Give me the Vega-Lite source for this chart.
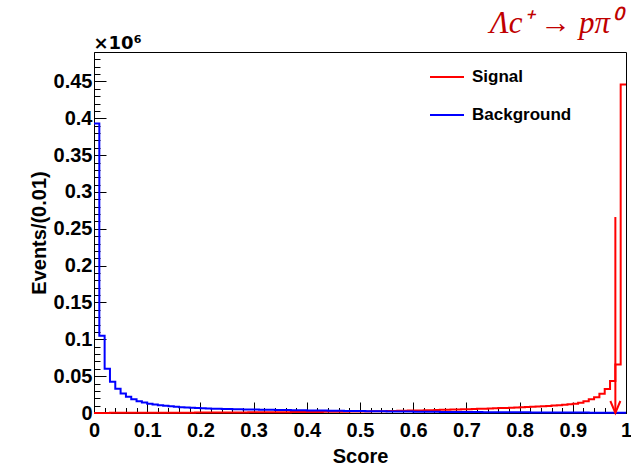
{
  "$schema": "https://vega.github.io/schema/vega-lite/v6.json",
  "width": 532,
  "height": 361,
  "autosize": {"type": "none"},
  "padding": {"left": 94, "top": 52, "right": 5, "bottom": 52},
  "background": "white",
  "title": {"text": "Λc⁺ → pπ⁰", "anchor": "end", "orient": "top", "frame": "group", "font": "Liberation Serif", "fontStyle": "italic", "fontWeight": "normal", "fontSize": 31, "color": "#c00000", "offset": -6, "dx": -5},
  "config": {
    "view": {"stroke": "#000000", "strokeWidth": 1},
    "axis": {"grid": false, "domainColor": "#000000", "tickColor": "#000000", "labelColor": "#000000", "titleColor": "#000000", "labelFont": "Liberation Sans", "labelFontWeight": "bold", "labelFontSize": 20, "titleFont": "Liberation Sans", "titleFontWeight": "bold", "titleFontSize": 20, "labelOverlap": false, "labelBound": false, "labelFlush": false}
  },
  "resolve": {"axis": {"x": "independent", "y": "independent"}},
  "datasets": {
    "hist": [
      {"score": 0.00, "Signal": 150, "Background": 393000},
      {"score": 0.01, "Signal": 160, "Background": 105000},
      {"score": 0.02, "Signal": 170, "Background": 60000},
      {"score": 0.03, "Signal": 180, "Background": 42500},
      {"score": 0.04, "Signal": 200, "Background": 33000},
      {"score": 0.05, "Signal": 210, "Background": 26500},
      {"score": 0.06, "Signal": 230, "Background": 22000},
      {"score": 0.07, "Signal": 250, "Background": 18500},
      {"score": 0.08, "Signal": 260, "Background": 16000},
      {"score": 0.09, "Signal": 280, "Background": 14200},
      {"score": 0.10, "Signal": 300, "Background": 12700},
      {"score": 0.11, "Signal": 320, "Background": 11500},
      {"score": 0.12, "Signal": 340, "Background": 10500},
      {"score": 0.13, "Signal": 360, "Background": 9700},
      {"score": 0.14, "Signal": 380, "Background": 9000},
      {"score": 0.15, "Signal": 400, "Background": 8400},
      {"score": 0.16, "Signal": 430, "Background": 7900},
      {"score": 0.17, "Signal": 460, "Background": 7400},
      {"score": 0.18, "Signal": 490, "Background": 7000},
      {"score": 0.19, "Signal": 520, "Background": 6700},
      {"score": 0.20, "Signal": 550, "Background": 6400},
      {"score": 0.21, "Signal": 580, "Background": 6100},
      {"score": 0.22, "Signal": 610, "Background": 5900},
      {"score": 0.23, "Signal": 640, "Background": 5700},
      {"score": 0.24, "Signal": 670, "Background": 5500},
      {"score": 0.25, "Signal": 700, "Background": 5300},
      {"score": 0.26, "Signal": 730, "Background": 5150},
      {"score": 0.27, "Signal": 770, "Background": 5000},
      {"score": 0.28, "Signal": 810, "Background": 4850},
      {"score": 0.29, "Signal": 850, "Background": 4700},
      {"score": 0.30, "Signal": 900, "Background": 4600},
      {"score": 0.31, "Signal": 940, "Background": 4450},
      {"score": 0.32, "Signal": 980, "Background": 4350},
      {"score": 0.33, "Signal": 1020, "Background": 4250},
      {"score": 0.34, "Signal": 1070, "Background": 4150},
      {"score": 0.35, "Signal": 1120, "Background": 4050},
      {"score": 0.36, "Signal": 1170, "Background": 3950},
      {"score": 0.37, "Signal": 1220, "Background": 3850},
      {"score": 0.38, "Signal": 1280, "Background": 3750},
      {"score": 0.39, "Signal": 1340, "Background": 3650},
      {"score": 0.40, "Signal": 1400, "Background": 3550},
      {"score": 0.41, "Signal": 1450, "Background": 3450},
      {"score": 0.42, "Signal": 1510, "Background": 3350},
      {"score": 0.43, "Signal": 1570, "Background": 3250},
      {"score": 0.44, "Signal": 1630, "Background": 3150},
      {"score": 0.45, "Signal": 1690, "Background": 3050},
      {"score": 0.46, "Signal": 1750, "Background": 2950},
      {"score": 0.47, "Signal": 1810, "Background": 2850},
      {"score": 0.48, "Signal": 1870, "Background": 2750},
      {"score": 0.49, "Signal": 1930, "Background": 2650},
      {"score": 0.50, "Signal": 2000, "Background": 2550},
      {"score": 0.51, "Signal": 2120, "Background": 2480},
      {"score": 0.52, "Signal": 2240, "Background": 2400},
      {"score": 0.53, "Signal": 2370, "Background": 2320},
      {"score": 0.54, "Signal": 2500, "Background": 2250},
      {"score": 0.55, "Signal": 2630, "Background": 2180},
      {"score": 0.56, "Signal": 2770, "Background": 2100},
      {"score": 0.57, "Signal": 2920, "Background": 2030},
      {"score": 0.58, "Signal": 3070, "Background": 1960},
      {"score": 0.59, "Signal": 3230, "Background": 1890},
      {"score": 0.60, "Signal": 3400, "Background": 1820},
      {"score": 0.61, "Signal": 3560, "Background": 1760},
      {"score": 0.62, "Signal": 3730, "Background": 1700},
      {"score": 0.63, "Signal": 3900, "Background": 1640},
      {"score": 0.64, "Signal": 4080, "Background": 1580},
      {"score": 0.65, "Signal": 4260, "Background": 1520},
      {"score": 0.66, "Signal": 4440, "Background": 1470},
      {"score": 0.67, "Signal": 4630, "Background": 1420},
      {"score": 0.68, "Signal": 4820, "Background": 1370},
      {"score": 0.69, "Signal": 5010, "Background": 1320},
      {"score": 0.70, "Signal": 5200, "Background": 1270},
      {"score": 0.71, "Signal": 5420, "Background": 1230},
      {"score": 0.72, "Signal": 5650, "Background": 1190},
      {"score": 0.73, "Signal": 5890, "Background": 1150},
      {"score": 0.74, "Signal": 6130, "Background": 1110},
      {"score": 0.75, "Signal": 6380, "Background": 1070},
      {"score": 0.76, "Signal": 6640, "Background": 1030},
      {"score": 0.77, "Signal": 6910, "Background": 990},
      {"score": 0.78, "Signal": 7190, "Background": 950},
      {"score": 0.79, "Signal": 7480, "Background": 910},
      {"score": 0.80, "Signal": 7800, "Background": 880},
      {"score": 0.81, "Signal": 8130, "Background": 850},
      {"score": 0.82, "Signal": 8480, "Background": 820},
      {"score": 0.83, "Signal": 8850, "Background": 790},
      {"score": 0.84, "Signal": 9240, "Background": 760},
      {"score": 0.85, "Signal": 9650, "Background": 730},
      {"score": 0.86, "Signal": 10100, "Background": 700},
      {"score": 0.87, "Signal": 10600, "Background": 670},
      {"score": 0.88, "Signal": 11200, "Background": 640},
      {"score": 0.89, "Signal": 11800, "Background": 610},
      {"score": 0.90, "Signal": 12500, "Background": 580},
      {"score": 0.91, "Signal": 14000, "Background": 550},
      {"score": 0.92, "Signal": 16000, "Background": 520},
      {"score": 0.93, "Signal": 18500, "Background": 490},
      {"score": 0.94, "Signal": 21500, "Background": 460},
      {"score": 0.95, "Signal": 26000, "Background": 430},
      {"score": 0.96, "Signal": 32500, "Background": 400},
      {"score": 0.97, "Signal": 43500, "Background": 370},
      {"score": 0.98, "Signal": 66000, "Background": 340},
      {"score": 0.99, "Signal": 446000, "Background": 300},
      {"score": 1.00, "Signal": 446000, "Background": 300}
    ]
  },
  "layer": [
    {
      "data": {"name": "hist"},
      "transform": [{"fold": ["Signal", "Background"], "as": ["series", "events"]}],
      "mark": {"type": "line", "interpolate": "step-after", "strokeWidth": 2, "clip": false},
      "encoding": {
        "x": {
          "field": "score", "type": "quantitative",
          "scale": {"domain": [0, 1], "nice": false, "zero": false},
          "axis": {
            "orient": "bottom", "title": "Score", "titlePadding": 6, "tickSize": -11, "labelPadding": 18, "labelOverlap": false,
            "values": [0, 0.1, 0.2, 0.3, 0.4, 0.5, 0.6, 0.7, 0.8, 0.9, 1],
            "labelExpr": "format(datum.value, '.1~f')"
          }
        },
        "y": {
          "field": "events", "type": "quantitative",
          "scale": {"domain": [0, 490000], "nice": false, "zero": true},
          "axis": {
            "orient": "left", "title": "Events/(0.01)", "titlePadding": 4, "tickSize": -12, "labelPadding": 14, "labelOverlap": false,
            "values": [0, 50000, 100000, 150000, 200000, 250000, 300000, 350000, 400000, 450000],
            "labelExpr": "(datum.value / 1000000) + ''"
          }
        },
        "color": {
          "field": "series", "type": "nominal",
          "scale": {"domain": ["Signal", "Background"], "range": ["#ff0000", "#0000ff"]},
          "legend": {"orient": "none", "legendX": 335, "legendY": 7, "title": null, "symbolType": "stroke", "symbolSize": 1156, "symbolStrokeWidth": 2, "labelFont": "Liberation Sans", "labelFontWeight": "bold", "labelFontSize": 17, "labelColor": "#000000", "labelOffset": 7, "rowPadding": 12, "padding": 0}
        }
      }
    },
    {
      "data": {"values": [{"score": 0.98, "top": 266000, "bottom": 0}]},
      "mark": {"type": "rule", "color": "#ff0000", "strokeWidth": 2},
      "encoding": {
        "x": {
          "field": "score", "type": "quantitative",
          "axis": {
            "orient": "bottom", "title": null, "labels": false, "domain": false, "tickSize": -5.5,
            "values": [0, 0.02, 0.04, 0.06, 0.08, 0.1, 0.12, 0.14, 0.16, 0.18, 0.2, 0.22, 0.24, 0.26, 0.28, 0.3, 0.32, 0.34, 0.36, 0.38, 0.4, 0.42, 0.44, 0.46, 0.48, 0.5, 0.52, 0.54, 0.56, 0.58, 0.6, 0.62, 0.64, 0.66, 0.68, 0.7, 0.72, 0.74, 0.76, 0.78, 0.8, 0.82, 0.84, 0.86, 0.88, 0.9, 0.92, 0.94, 0.96, 0.98, 1]
          }
        },
        "y": {
          "field": "top", "type": "quantitative",
          "axis": {
            "orient": "left", "labels": false, "domain": false, "tickSize": -6,
            "values": [0, 10000, 20000, 30000, 40000, 50000, 60000, 70000, 80000, 90000, 100000, 110000, 120000, 130000, 140000, 150000, 160000, 170000, 180000, 190000, 200000, 210000, 220000, 230000, 240000, 250000, 260000, 270000, 280000, 290000, 300000, 310000, 320000, 330000, 340000, 350000, 360000, 370000, 380000, 390000, 400000, 410000, 420000, 430000, 440000, 450000, 460000, 470000, 480000],
            "title": "×10⁶", "titleAngle": 0, "titleX": -1, "titleY": -4, "titleAlign": "left", "titleBaseline": "alphabetic", "titleFont": "DejaVu Sans", "titleFontSize": 18
          }
        },
        "y2": {"field": "bottom"}
      }
    },
    {
      "data": {"values": [{"score": 0.98, "top": 266000, "bottom": 0}]},
      "mark": {"type": "point", "shape": "M-1,-2.4L0,0L1,-2.4", "size": 100, "filled": false, "stroke": "#ff0000", "strokeWidth": 2, "opacity": 1},
      "encoding": {
        "x": {"field": "score", "type": "quantitative", "axis": null},
        "y": {"field": "bottom", "type": "quantitative", "axis": null}
      }
    }
  ]
}
